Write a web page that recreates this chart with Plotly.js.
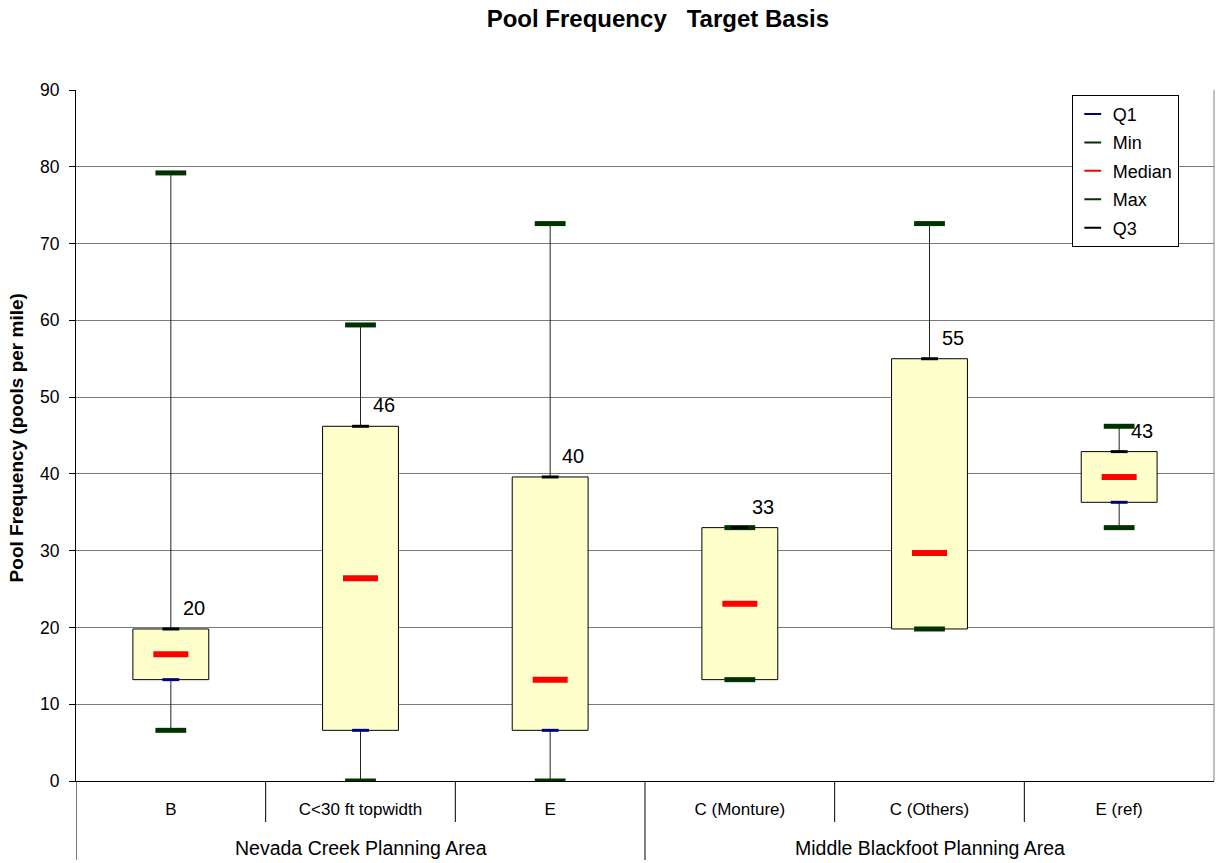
<!DOCTYPE html>
<html><head><meta charset="utf-8">
<script src="https://cdn.plot.ly/plotly-3.0.1.min.js"></script>
<style>html,body{margin:0;padding:0;background:#fff}</style>
</head><body><div id="chart" style="width:1216px;height:863px"></div>
<script>
const categories = ["B", "C<30 ft topwidth", "E", "C (Monture)", "C (Others)", "E (ref)"];
const groups = ["Nevada Creek Planning Area", "Middle Blackfoot Planning Area"];
const groupOf = [0, 0, 0, 1, 1, 1];
const minVals = [6.6, 0, 0, 13.2, 19.8, 33.0];
const q1Vals = [13.2, 6.6, 6.6, 13.2, 19.8, 36.3];
const medianVals = [16.5, 26.4, 13.2, 23.1, 29.7, 39.6];
const q3Vals = [19.8, 46.2, 39.6, 33.0, 55.0, 42.9];
const maxVals = [79.2, 59.4, 72.6, 33.0, 72.6, 46.2];
const q3Labels = ["20", "46", "40", "33", "55", "43"];

const FONT = "Liberation Sans, Arial, sans-serif";
const idx = categories.map((_, i) => i);

// whiskers: Q3->Max and Min->Q1
const wx = [], wy = [];
idx.forEach(i => {
  wx.push(i, i, null, i, i, null);
  wy.push(q3Vals[i], maxVals[i], null, minVals[i], q1Vals[i], null);
});

const traces = [
  {type: "scatter", mode: "lines", x: wx, y: wy, line: {color: "#222", width: 1},
   showlegend: false, hoverinfo: "skip"},
  {type: "bar", x: idx, base: q1Vals, y: idx.map(i => q3Vals[i] - q1Vals[i]), width: 0.4,
   marker: {color: "#FFFFCC", line: {color: "#000", width: 1}}, showlegend: false, hoverinfo: "skip"}
];

const series = [
  {name: "Q1", vals: q1Vals, color: "#000080", size: 12, lw: 3},
  {name: "Min", vals: minVals, color: "#003300", size: 22, lw: 5},
  {name: "Median", vals: medianVals, color: "#FF0000", size: 25, lw: 6},
  {name: "Max", vals: maxVals, color: "#003300", size: 22, lw: 5},
  {name: "Q3", vals: q3Vals, color: "#000000", size: 12, lw: 3}
];
series.forEach(s => {
  traces.push({type: "scatter", mode: "markers", name: s.name, x: idx, y: s.vals,
    legendgroup: s.name,
    marker: {symbol: "line-ew", size: s.size, color: s.color, line: {color: s.color, width: s.lw}}});
});

const annotations = idx.map(i => ({
  x: i, y: q3Vals[i], xref: "x", yref: "y", text: q3Labels[i], showarrow: false,
  xanchor: "left", yanchor: "bottom", xshift: 10, yshift: 8,
  font: {family: FONT, size: 20, color: "#000"}
}));
groups.forEach((g, gi) => {
  const members = idx.filter(i => groupOf[i] === gi);
  const center = (members[0] + members[members.length - 1]) / 2;
  annotations.push({x: center, y: -0.097, xref: "x", yref: "paper", text: g, showarrow: false,
    yanchor: "middle", font: {family: FONT, size: 19.5, color: "#000"}});
});
// y axis title
annotations.push({x: -0.052, y: 0.497, xref: "paper", yref: "paper", textangle: -90,
  text: "<b>Pool Frequency (pools per mile)</b>", showarrow: false,
  xanchor: "center", yanchor: "middle", font: {family: FONT, size: 19, color: "#000"}});

const H = 691;
const shapes = [];
// inner category boundaries
[0.5, 1.5, 3.5, 4.5].forEach(b => shapes.push({type: "line", xref: "x", yref: "paper",
  x0: b, x1: b, y0: 0, y1: -41 / H, line: {color: "#000", width: 1}}));
// group boundaries
[-0.5, 2.5].forEach(b => shapes.push({type: "line", xref: "x", yref: "paper",
  x0: b, x1: b, y0: 0, y1: -79 / H, line: {color: "#000", width: 1}}));
// right border
shapes.push({type: "line", xref: "paper", yref: "paper", x0: 1, x1: 1, y0: 0, y1: 1,
  line: {color: "#808080", width: 1}});

const layout = {
  width: 1216, height: 863,
  margin: {l: 76, r: 2, t: 90, b: 82},
  paper_bgcolor: "#fff", plot_bgcolor: "#fff",
  font: {family: FONT, color: "#000", size: 17},
  title: {text: "<b>Pool Frequency   Target Basis</b>", x: 0.541, xref: "container",
    y: 1 - 19 / 863, yref: "container", yanchor: "middle", xanchor: "center",
    font: {family: FONT, size: 24, color: "#000"}},
  xaxis: {type: "linear", range: [-0.5, 5.5], tickvals: idx, ticktext: categories,
    showgrid: false, zeroline: false, showline: true, linecolor: "#000", linewidth: 1,
    ticks: "", ticklabelstandoff: 13, tickfont: {family: FONT, size: 17, color: "#000"}},
  yaxis: {range: [0, 90], dtick: 10, showgrid: true, gridcolor: "#7a7a7a", gridwidth: 1,
    zeroline: false, showline: true, linecolor: "#000", linewidth: 1,
    ticks: "outside", ticklen: 6, tickcolor: "#000", ticklabelstandoff: 6,
    tickfont: {family: FONT, size: 17.5, color: "#000"}},
  legend: {x: 0.875, xanchor: "left", y: 0.993, yanchor: "top", bgcolor: "#fff",
    bordercolor: "#000", borderwidth: 1, font: {family: FONT, size: 18, color: "#000"},
    itemsizing: "constant", traceorder: "grouped", tracegroupgap: 2},
  annotations: annotations,
  shapes: shapes,
  bargap: 0.6,
  hovermode: false
};

Plotly.newPlot("chart", traces, layout, {displayModeBar: false, staticPlot: true});
</script>
</body></html>
